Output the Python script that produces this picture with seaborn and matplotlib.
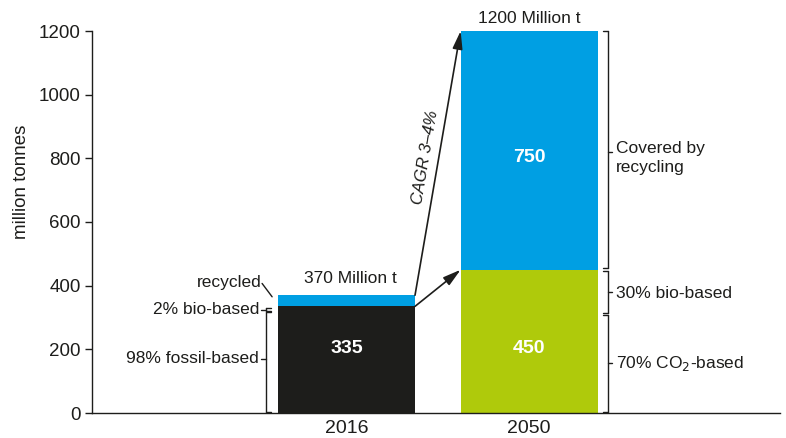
import matplotlib
matplotlib.use("Agg")
import matplotlib.pyplot as plt
from matplotlib import font_manager
import seaborn as sns
import pandas as pd

# ---- data ----
years = ["2016", "2050"]
totals = [370, 1200]          # total demand (top of blue segments)
base = [335, 450]             # fossil+bio (2016), CO2+bio (2050)
recycled = [35, 750]
total_labels = ["370 Million t", "1200 Million t"]
base_labels = ["335", "450"]
recycled_label_2050 = "750"
cagr_label = "CAGR 3–4%"
y_ticks = [0, 200, 400, 600, 800, 1000, 1200]

blue = "#009FE3"
green = "#AFCA0B"
black = "#1D1D1B"
ink = "#1D1D1B"

sns.set_theme(style="white")
names = {f.name for f in font_manager.fontManager.ttflist}
fam = ["Liberation Sans Narrow"] if "Liberation Sans Narrow" in names else ["Liberation Sans"]
plt.rcParams["font.family"] = fam + ["DejaVu Sans"]
plt.rcParams["text.color"] = ink
plt.rcParams["axes.labelcolor"] = ink
plt.rcParams["xtick.color"] = ink
plt.rcParams["ytick.color"] = ink

fig = plt.figure(figsize=(7.86, 4.38), dpi=100)
ax = fig.add_axes([92 / 786, 25 / 438, (780 - 92) / 786, (413 - 31) / 438])

df_tot = pd.DataFrame({"year": years, "value": totals})
df_base = pd.DataFrame({"year": years, "value": base})
W = 0.75
sns.barplot(data=df_tot, x="year", y="value", hue="year",
            palette={years[0]: blue, years[1]: blue}, width=W,
            legend=False, ax=ax, saturation=1, linewidth=0)
sns.barplot(data=df_base, x="year", y="value", hue="year",
            palette={years[0]: black, years[1]: green}, width=W,
            legend=False, ax=ax, saturation=1, linewidth=0)

ax.set_ylim(0, 1200)
ax.set_xlim(-1.395, 2.375)
ax.set_yticks(y_ticks)
ax.set_ylabel("million tonnes", fontsize=13.5)
ax.yaxis.set_label_coords(-0.09, 0.605)
ax.set_xlabel("")
for s in ["top", "right"]:
    ax.spines[s].set_visible(False)
for s in ["left", "bottom"]:
    ax.spines[s].set_color(ink)
    ax.spines[s].set_linewidth(1.0)
ax.tick_params(axis="y", direction="out", length=5, width=1, labelsize=13.5, pad=3, left=True)
ax.tick_params(axis="x", length=0, labelsize=14, pad=5)

fs = 12.5
hw = W / 2
# bar value labels
ax.text(0, 204, base_labels[0], ha="center", va="center", color="white",
        fontsize=14, fontweight="bold")
ax.text(1, 204, base_labels[1], ha="center", va="center", color="white",
        fontsize=14, fontweight="bold")
ax.text(1, 804, recycled_label_2050, ha="center", va="center", color="white",
        fontsize=14, fontweight="bold")
ax.text(0.02, 424, total_labels[0], ha="center", va="center", fontsize=fs, clip_on=False)
ax.text(1, 1215, total_labels[1], ha="center", va="bottom", fontsize=fs, clip_on=False)

# arrows
ax.annotate("", xy=(1 - hw, totals[1]), xytext=(hw, totals[0]),
            arrowprops=dict(arrowstyle="-|>,head_length=0.9,head_width=0.25",
                            color=ink, lw=1.2, shrinkA=0, shrinkB=0), annotation_clip=False)
ax.annotate("", xy=(1 - hw, base[1]), xytext=(hw, base[0]),
            arrowprops=dict(arrowstyle="-|>,head_length=0.9,head_width=0.25",
                            color=ink, lw=1.2, shrinkA=0, shrinkB=0))
ax.text(0.43, 804, cagr_label, rotation=80.5, ha="center", va="center",
        fontsize=12, style="italic")

# brackets
lx = -hw - 0.066
tk = 0.027
def bracket(x, y0, y1, ymid, side_end, side_mid):
    ax.plot([x, x], [y0, y1], color=ink, lw=1.0, clip_on=False)
    ax.plot([x, x + side_end], [y0, y0], color=ink, lw=1.0, clip_on=False)
    ax.plot([x, x + side_end], [y1, y1], color=ink, lw=1.0, clip_on=False)
    ax.plot([x, x + side_mid], [ymid, ymid], color=ink, lw=1.0, clip_on=False)

bracket(lx, 2, 316, 170, tk, -tk)
bracket(lx, 321, 330, 325, tk, -tk)
ax.text(lx - tk - 0.012, 170, "98% fossil-based", ha="right", va="center", fontsize=fs)
ax.text(lx - tk - 0.012, 326, "2% bio-based", ha="right", va="center", fontsize=fs)
ax.text(lx - tk - 0.0, 410, "recycled", ha="right", va="center", fontsize=fs)
ax.plot([lx - 0.022, lx + 0.033], [407, 365], color=ink, lw=1.0)

rx = 1 + hw + 0.055
bracket(rx, 455, 1200, 820, -tk, tk)
bracket(rx, 315, 445, 380, -tk, tk)
bracket(rx, 2, 309, 157, -tk, tk)
ax.text(rx + tk + 0.02, 800, "Covered by\nrecycling", ha="left", va="center",
        fontsize=fs, linespacing=1.35)
ax.text(rx + tk + 0.02, 374, "30% bio-based", ha="left", va="center", fontsize=fs)
ax.text(rx + tk + 0.02, 157, "70% CO$_2$-based", ha="left", va="center", fontsize=fs)

fig.savefig("out.png", dpi=100)
